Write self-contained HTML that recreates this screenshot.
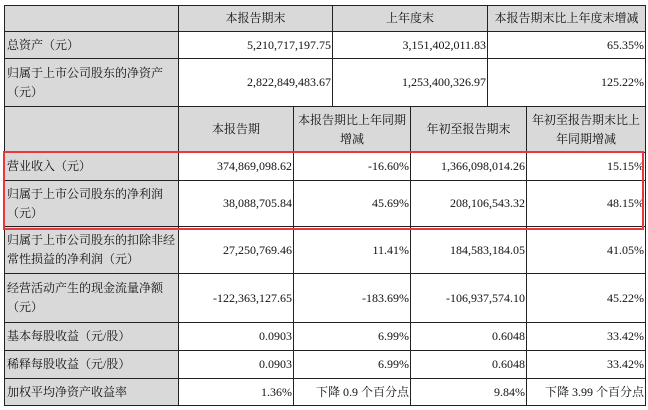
<!DOCTYPE html>
<html><head><meta charset="utf-8"><style>
body{margin:0;width:648px;height:410px;background:#fff;position:relative;overflow:hidden;font-family:"Liberation Serif","Noto Serif CJK SC",serif;font-size:12px;color:#111}
table{position:absolute;left:4px;top:5px;border-collapse:collapse;table-layout:fixed}
td{border:1px solid #222;padding:0 2px;line-height:19px;box-sizing:border-box;white-space:nowrap;overflow:hidden}
.l{background:#d9d9d9;text-align:left;padding-left:2px}
.h{background:#d9d9d9;text-align:center}
.r{text-align:right;padding-right:1px}
#box{position:absolute;left:3px;top:151px;width:637px;height:75px;border:2px solid #e8383d}
</style></head><body>
<table>
<colgroup><col style="width:174px"><col style="width:115px"><col style="width:39px"><col style="width:78px"><col style="width:77px"><col style="width:39px"><col style="width:119px"></colgroup>
<tr style="height:26px"><td class="h"></td><td class="h" colspan="2">本报告期末</td><td class="h" colspan="2">上年度末</td><td class="h" colspan="2">本报告期末比上年度末增减</td></tr>
<tr style="height:27px"><td class="l">总资产（元）</td><td class="r" colspan="2">5,210,717,197.75</td><td class="r" colspan="2">3,151,402,011.83</td><td class="r" colspan="2">65.35%</td></tr>
<tr style="height:48px"><td class="l">归属于上市公司股东的净资产<br>（元）</td><td class="r" colspan="2">2,822,849,483.67</td><td class="r" colspan="2">1,253,400,326.97</td><td class="r" colspan="2">125.22%</td></tr>
<tr style="height:46px"><td class="h"></td><td class="h">本报告期</td><td class="h" colspan="2">本报告期比上年同期<br>增减</td><td class="h" colspan="2">年初至报告期末</td><td class="h">年初至报告期末比上<br>年同期增减</td></tr>
<tr style="height:28px"><td class="l">营业收入（元）</td><td class="r">374,869,098.62</td><td class="r" colspan="2">-16.60%</td><td class="r" colspan="2">1,366,098,014.26</td><td class="r">15.15%</td></tr>
<tr style="height:46px"><td class="l">归属于上市公司股东的净利润<br>（元）</td><td class="r">38,088,705.84</td><td class="r" colspan="2">45.69%</td><td class="r" colspan="2">208,106,543.32</td><td class="r">48.15%</td></tr>
<tr style="height:47px"><td class="l">归属于上市公司股东的扣除非经<br>常性损益的净利润（元）</td><td class="r">27,250,769.46</td><td class="r" colspan="2">11.41%</td><td class="r" colspan="2">184,583,184.05</td><td class="r">41.05%</td></tr>
<tr style="height:49px"><td class="l">经营活动产生的现金流量净额<br>（元）</td><td class="r">-122,363,127.65</td><td class="r" colspan="2">-183.69%</td><td class="r" colspan="2">-106,937,574.10</td><td class="r">45.22%</td></tr>
<tr style="height:28px"><td class="l">基本每股收益（元/股）</td><td class="r">0.0903</td><td class="r" colspan="2">6.99%</td><td class="r" colspan="2">0.6048</td><td class="r">33.42%</td></tr>
<tr style="height:28px"><td class="l">稀释每股收益（元/股）</td><td class="r">0.0903</td><td class="r" colspan="2">6.99%</td><td class="r" colspan="2">0.6048</td><td class="r">33.42%</td></tr>
<tr style="height:27px"><td class="l">加权平均净资产收益率</td><td class="r">1.36%</td><td class="r" colspan="2">下降 0.9 个百分点</td><td class="r" colspan="2">9.84%</td><td class="r">下降 3.99 个百分点</td></tr>
</table>
<div id="box"></div>
</body></html>
